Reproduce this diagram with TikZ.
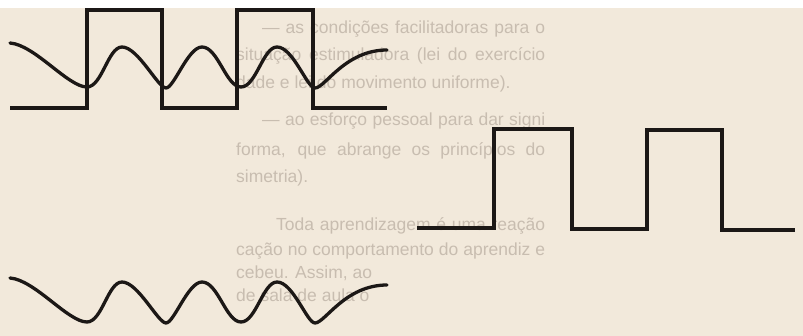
\documentclass[tikz,border=0pt]{standalone}
\usepackage{fontspec}
\setmainfont{Liberation Sans}
\definecolor{paperTone}{RGB}{242,233,219}
\definecolor{inkBlack}{RGB}{28,24,22}
\definecolor{ghostText}{RGB}{200,189,176}

\begin{document}
\begin{tikzpicture}[x=1pt, y=-1pt,
  square/.style={draw=inkBlack, line width=3.6pt, line join=miter},
  wavy/.style={draw=inkBlack, line width=3.3pt, line cap=round},
  ghost/.style={anchor=base west, inner sep=0pt, text=ghostText,
                font=\fontsize{17.5}{20}\selectfont},
  ripple/.pic={
    \draw[wavy] (10,43) .. controls (35,45) and (68,87) .. (87,87)
      .. controls (102,87) and (108,47) .. (122,47)
      .. controls (138,47) and (158,88) .. (166,88)
      .. controls (174,88) and (188,47) .. (202,47)
      .. controls (218,47) and (226,87) .. (241,87)
      .. controls (256,87) and (263,47) .. (277,47)
      .. controls (293,47) and (307,88) .. (315,88)
      .. controls (325,88) and (345,50) .. (387,50);
  }
]
  \useasboundingbox (0,0) rectangle (803,336);
  \fill[paperTone] (0,0) rectangle (803,336);
  \fill[white] (0,0) rectangle (803,8);

  % faded print of the page behind
  \node[ghost] (l1)  at (262,34)  {\makebox[283pt][s]{— as condições facilitadoras para o}};
  \node[ghost] (l2)  at (236,61)  {\makebox[309pt][s]{situação estimuladora (lei do exercício}};
  \node[ghost] (l3)  at (236,89)  {dade e lei do movimento uniforme).};
  \node[ghost] (l4)  at (262,126) {\makebox[283pt][s]{— ao esforço pessoal para dar signi}};
  \node[ghost] (l5)  at (236,156) {\makebox[309pt][s]{forma, que abrange os princípios do}};
  \node[ghost] (l6)  at (236,183) {simetria).};
  \node[ghost] (l7)  at (276,231) {\makebox[269pt][s]{Toda aprendizagem é uma reação}};
  \node[ghost] (l8)  at (236,256) {\makebox[309pt][s]{cação no comportamento do aprendiz e}};
  \node[ghost] (l9)  at (236,279) {cebeu. Assim, ao};
  \node[ghost] (l10) at (236,302) {de sala de aula o};

  % square wave with its ripple on top
  \draw[square] (10,108) -| (87,10) -| (162,108) -| (237,10) -| (313,108) -- (387,108);
  \pic at (0,0) {ripple};

  % ripple alone
  \pic at (0,235) {ripple};

  % square wave alone
  \draw[square] (417,228) -| (494,129) -| (572,229) -| (647,130) -| (722,230) -- (795,230);
\end{tikzpicture}
\end{document}
